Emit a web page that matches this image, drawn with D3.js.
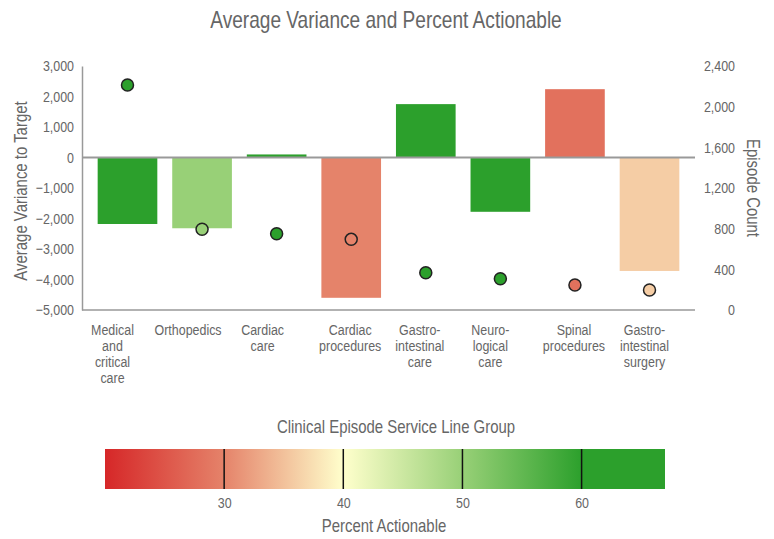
<!DOCTYPE html>
<html><head><meta charset="utf-8">
<script src="https://cdn.jsdelivr.net/npm/d3@7"></script>
<style>
body{margin:0;background:#fff;}
text{font-family:"Liberation Sans",Arial,sans-serif;fill:#666;}
</style></head>
<body><svg id="c" width="774" height="539"></svg>
<script>
const categories = [["Medical","and","critical","care"],["Orthopedics"],["Cardiac","care"],["Cardiac","procedures"],["Gastro-","intestinal","care"],["Neuro-","logical","care"],["Spinal","procedures"],["Gastro-","intestinal","surgery"]];
const variance = [-2180, -2320, 100, -4600, 1750, -1780, 2240, -3720];
const episodes = [2213, 794, 750, 695, 367, 308, 246, 197];
const pctActionable = [62, 50, 65, 30, 63, 61, 28, 36];
const leftTicks = [3000,2000,1000,0,-1000,-2000,-3000,-4000,-5000];
const rightTicks = [0,400,800,1200,1600,2000,2400];
const legendTicks = [30,40,50,60];

// layout tweaks (label offsets relative to band centre)
const labelDx = [-15,-14,-14,-1,-6,-10,-1,-5];
const K = 0.83; // horizontal condensing of text
const svg = d3.select("#c");
const X0=82, X1=695, YT=66, YB=310;
const keys = categories.map((c,i)=>i);
const x = d3.scaleBand().domain(keys).range([X0,X1]).paddingInner(0.2).paddingOuter(0.21);
const yL = d3.scaleLinear().domain([-5000,3000]).range([YB,YT]);
const yR = d3.scaleLinear().domain([0,2400]).range([YB,YT]);
const color = d3.scaleLinear().domain([20,30,40,50,60]).range(["#d62728","#e5836a","#ffffcc","#98d077","#2ca02c"]).clamp(true);

function label(x0,y0,rot,txt,size,anchor){
  const g = svg.append("g").attr("transform",`translate(${x0},${y0}) rotate(${rot}) scale(${K},1)`);
  return g.append("text").attr("text-anchor",anchor||"middle").style("font-size",size+"px").text(txt);
}
function condenseAxisText(g){
  g.selectAll("text").each(function(){
    const t=d3.select(this); const xv=+t.attr("x")||0;
    t.attr("x",xv/K).attr("transform",`scale(${K},1)`);
  });
}

label(386,28,0,"Average Variance and Percent Actionable",23);

// left axis
const gl = svg.append("g").attr("transform",`translate(${X0},0)`).call(d3.axisLeft(yL).tickValues(leftTicks).tickFormat(d3.format(",")).tickSize(0).tickPadding(8));
gl.select(".domain").attr("stroke","#999").attr("stroke-width",1.5);
gl.selectAll("text").style("font-size","15px").attr("fill","#666");
condenseAxisText(gl);
// right axis
const gr = svg.append("g").attr("transform",`translate(${X1},0)`).call(d3.axisRight(yR).tickValues(rightTicks).tickFormat(d3.format(",")).tickSize(0).tickPadding(40));
gr.select(".domain").remove();
gr.selectAll("text").style("font-size","15px").attr("fill","#666").attr("text-anchor","end");
condenseAxisText(gr);
// bottom line
svg.append("line").attr("x1",X0).attr("x2",X1).attr("y1",YB).attr("y2",YB).attr("stroke","#999").attr("stroke-width",1.5);

// bars
svg.selectAll("rect.bar").data(variance).join("rect").attr("class","bar")
 .attr("x",(d,i)=>x(i)).attr("width",x.bandwidth())
 .attr("y",d=>Math.min(yL(d),yL(0))).attr("height",d=>Math.abs(yL(d)-yL(0)))
 .attr("fill",(d,i)=>color(pctActionable[i]));
// zero line
svg.append("line").attr("x1",X0).attr("x2",X1).attr("y1",yL(0)).attr("y2",yL(0)).attr("stroke","#999").attr("stroke-width",2);
// points
svg.selectAll("circle.pt").data(episodes).join("circle").attr("class","pt")
 .attr("cx",(d,i)=>x(i)+x.bandwidth()/2).attr("cy",d=>yR(d)).attr("r",6)
 .attr("fill",(d,i)=>color(pctActionable[i])).attr("stroke","#222").attr("stroke-width",1.5);

// x labels
categories.forEach((lines,i)=>{
  const t = label(x(i)+x.bandwidth()/2+labelDx[i],335,0,"",15);
  lines.forEach((l,j)=>t.append("tspan").attr("x",0).attr("dy",j?16:0).text(l));
});

// axis titles
label(27,191,-90,"Average Variance to Target",18);
label(747,188,90,"Episode Count",18);

// legend
label(396,433,0,"Clinical Episode Service Line Group",18);
const lx = d3.scaleLinear().domain([20,67]).range([105,665]);
const defs = svg.append("defs");
const grad = defs.append("linearGradient").attr("id","lg").attr("x1","0%").attr("x2","100%");
const stops = [20,30,40,50,60,67];
stops.forEach(s=>grad.append("stop").attr("offset",((s-20)/(67-20)*100)+"%").attr("stop-color",color(s)));
svg.append("rect").attr("x",lx(20)).attr("y",449).attr("width",lx(67)-lx(20)).attr("height",40).attr("fill","url(#lg)");
const ga = svg.append("g").attr("transform","translate(0,489)").call(d3.axisBottom(lx).tickValues(legendTicks).tickSize(0).tickPadding(8));
ga.select(".domain").remove();
ga.selectAll("text").style("font-size","15px").attr("fill","#333");
condenseAxisText(ga);
svg.selectAll("line.lt").data(legendTicks).join("line").attr("class","lt")
 .attr("x1",d=>lx(d)).attr("x2",d=>lx(d)).attr("y1",449).attr("y2",489).attr("stroke","#111").attr("stroke-width",1.5);
label(384,532,0,"Percent Actionable",18);
</script></body></html>
